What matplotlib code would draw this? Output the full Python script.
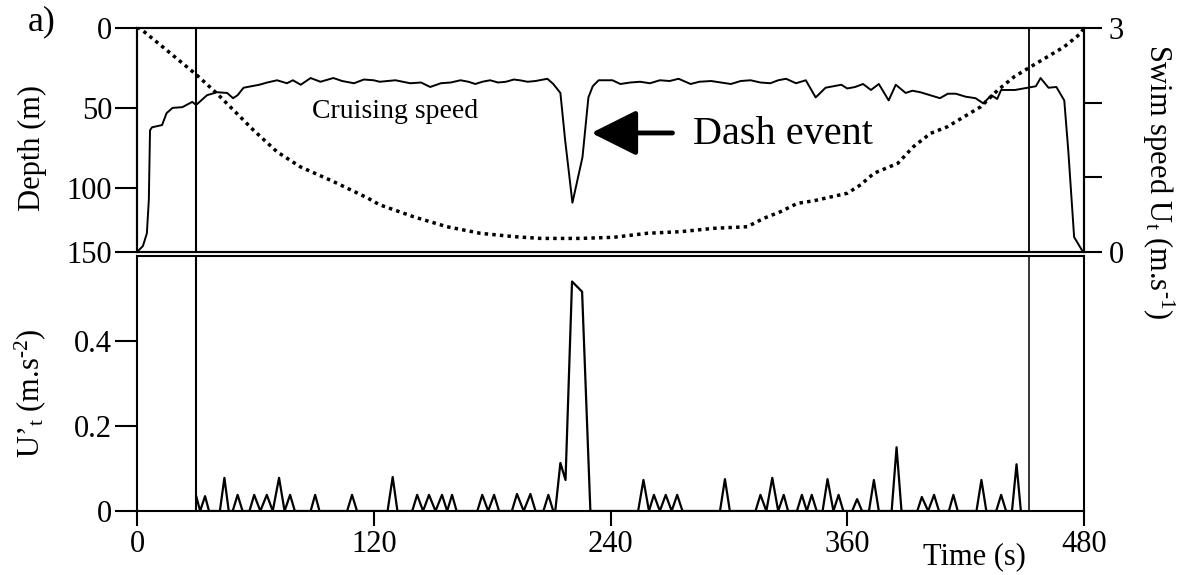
import matplotlib
matplotlib.use("Agg")
import matplotlib.pyplot as plt
from matplotlib.ticker import FixedLocator, FixedFormatter

plt.rcParams['font.family'] = 'Liberation Serif'
plt.rcParams['mathtext.fontset'] = 'custom'
plt.rcParams['mathtext.rm'] = 'Liberation Serif'
plt.rcParams['mathtext.it'] = 'Liberation Serif:italic'

# --- dive record ---
# swim speed U_t (m/s)
speed_t = [0, 3, 5, 6, 6.6, 7.6, 12.7, 15, 18, 23, 28, 30, 35.5, 40.6, 45.7, 48.7,
           51, 54, 58, 62, 66, 71, 76, 79, 83, 88, 93, 99.5, 104, 110, 115, 120,
           123, 131, 138.5, 144, 148.6, 154, 159, 164, 168, 171.5, 175, 179, 183,
           187, 191, 194, 198, 202, 208, 211, 214.6, 217, 220.7, 225.8, 228.8,
           231, 234, 241, 245, 250, 255, 260, 265, 270, 274.5, 280.6, 285, 291,
           296, 301, 306, 311, 316, 321, 325, 329, 334, 339, 344, 349, 353, 357,
           360, 364, 368, 372, 376, 381, 384.6, 389.6, 393, 397, 402, 407, 411,
           415, 420, 425, 429, 433, 436, 438, 445, 451.5, 455.6, 458, 462, 466,
           470, 472, 475, 479.5]
speed_v = [0, 0.08, 0.25, 0.7, 1.63, 1.67, 1.70, 1.86, 1.93, 1.94, 2.01, 1.97, 2.10, 2.14, 2.13, 2.06,
           2.10, 2.20, 2.22, 2.24, 2.27, 2.30, 2.26, 2.30, 2.24, 2.33, 2.28, 2.33, 2.29, 2.26, 2.31, 2.30,
           2.28, 2.30, 2.26, 2.27, 2.21, 2.26, 2.27, 2.30, 2.28, 2.25, 2.28, 2.30, 2.27,
           2.28, 2.31, 2.30, 2.28, 2.29, 2.32, 2.25, 2.13, 1.50, 0.66, 1.27, 2.07,
           2.22, 2.30, 2.30, 2.25, 2.27, 2.28, 2.26, 2.30, 2.29, 2.32, 2.25, 2.28, 2.29,
           2.27, 2.25, 2.29, 2.30, 2.27, 2.26, 2.30, 2.32, 2.26, 2.30, 2.07, 2.20, 2.22, 2.24,
           2.19, 2.21, 2.25, 2.17, 2.25, 2.03, 2.24, 2.13, 2.16, 2.14, 2.10, 2.06, 2.12,
           2.12, 2.08, 2.06, 1.99, 2.10, 2.05, 2.17, 2.17, 2.20, 2.22, 2.33, 2.20, 2.21,
           2.03, 1.37, 0.20, 0]

# depth (m)
depth_t = [0, 1.5, 15, 30.3, 40.4, 48.9, 59, 70.9, 82.7, 99.6, 116.5, 123, 133.4,
           140.2, 157.1, 174, 191, 204.5, 224.8, 241.7, 258.6, 275.5, 292.4, 309.3,
           317.8, 326.2, 334.7, 343, 360, 366.8, 373.5, 385.6, 393.7, 402.3, 410.8,
           419.3, 427.7, 436.3, 444.7, 453, 461.6, 470, 478.4, 480]
depth_v = [0, 0.2, 13.8, 29.4, 40.8, 51.3, 63.8, 77.3, 86.7, 96, 106, 110.5, 115,
           118, 124.2, 128.3, 130.4, 131.5, 131.5, 130.8, 128.3, 127.3, 125.2, 124.2,
           118.9, 114.8, 109.6, 108, 103.3, 98, 90.8, 84.6, 74, 65.8, 61.7,
           55.4, 49.2, 38.8, 30.4, 24.2, 17.9, 11.7, 3.3, 0]

# tangential acceleration U'_t (m/s^2), (time, value)
accel = [(30, 0.035), (32, 0), (34.5, 0.035), (36.5, 0), (42, 0), (44.3, 0.078),
         (46.5, 0), (48.5, 0), (51, 0.038), (53.5, 0), (57, 0), (59.4, 0.038),
         (62.5, 0), (65.8, 0.038), (68.8, 0), (72, 0.078), (74.8, 0), (77.6, 0.038),
         (80, 0), (88, 0), (90.3, 0.038), (92.5, 0), (106.5, 0), (109, 0.038),
         (111.5, 0), (127, 0), (129.6, 0.08), (132, 0), (139.5, 0), (142, 0.038),
         (145, 0), (148, 0.038), (151.3, 0), (154.6, 0.038), (157.2, 0), (159.7, 0.038),
         (162, 0), (172.5, 0), (175, 0.038), (178, 0), (181, 0.038), (183.5, 0),
         (190, 0), (192.6, 0.04), (196, 0), (199.4, 0.04), (202, 0), (206, 0),
         (208.5, 0.038), (211, 0), (212, 0), (214.6, 0.113), (217.2, 0.073),
         (220.5, 0.54), (225.6, 0.516), (229.8, 0), (254, 0), (256.7, 0.073),
         (259.5, 0), (262, 0.038), (265, 0), (268, 0.038), (271, 0), (273.8, 0.038),
         (276.5, 0), (295.5, 0), (298, 0.075), (300.5, 0), (313.5, 0), (316, 0.038),
         (319, 0), (322, 0.078), (325, 0), (327.8, 0.038), (330, 0), (334.5, 0),
         (337, 0.038), (339.5, 0), (342, 0.038), (344.5, 0), (347.5, 0), (350, 0.075),
         (353, 0), (355.6, 0.038), (358, 0), (362.5, 0), (365, 0.028), (367.5, 0),
         (371, 0), (373.5, 0.073), (376, 0), (382.5, 0), (385, 0.15), (387.5, 0),
         (395.5, 0), (397.8, 0.033), (401, 0), (404, 0.038), (406.5, 0), (411.5, 0),
         (413.8, 0.038), (416, 0), (425.5, 0), (428, 0.073), (430.5, 0), (435.5, 0),
         (438, 0.038), (440.5, 0), (443.5, 0), (445.8, 0.11), (448, 0)]

# start/end of the bottom phase
phase_marks = [30, 452]

time_ticks = [0, 120, 240, 360, 480]
depth_ticks = [0, 50, 100, 140]
depth_labels = ['0', '50', '100', '150']
speed_ticks = [0, 1, 2, 3]
speed_labels = ['0', '', '', '3']
accel_ticks = [0, 0.2, 0.4]
accel_labels = ['0', '0.2', '0.4']

W, H = 1186, 575


def fx(x):
    return x / W


def fy(y):
    return 1 - y / H


fig = plt.figure(figsize=(W / 100, H / 100), dpi=100)
ax_top = fig.add_axes([fx(137), fy(252), fx(1084) - fx(137), fy(28) - fy(252)])
ax_spd = ax_top.twinx()
ax_bot = fig.add_axes([fx(137), fy(511), fx(1084) - fx(137), fy(256) - fy(511)])

lw = 1.5
tick_fs = 22

# --- top panel: depth (left) and swim speed (right) ---
ax_top.plot(depth_t, depth_v, color='black', lw=2.5, linestyle=(0, (1, 1.2)))
ax_top.set_xlim(0, 480)
ax_top.set_ylim(140, 0)
ax_top.yaxis.set_major_locator(FixedLocator(depth_ticks))
ax_top.yaxis.set_major_formatter(FixedFormatter(depth_labels))
ax_top.tick_params(axis='y', direction='out', length=16, width=lw, pad=2, labelsize=tick_fs)
ax_top.tick_params(axis='x', bottom=False, labelbottom=False)

ax_spd.plot(speed_t, speed_v, color='black', lw=1.4)
ax_spd.set_ylim(0, 3)
ax_spd.yaxis.set_major_locator(FixedLocator(speed_ticks))
ax_spd.yaxis.set_major_formatter(FixedFormatter(speed_labels))
ax_spd.tick_params(axis='y', direction='out', length=13, width=lw, pad=5, labelsize=tick_fs)

for a in (ax_top, ax_spd, ax_bot):
    for s in a.spines.values():
        s.set_linewidth(lw)

for t in phase_marks:
    ax_top.axvline(t, color='black', lw=lw if t < 240 else 1.3)
    ax_bot.axvline(t, color='black', lw=lw if t < 240 else 1.1)

fig.text(fx(312), fy(118), 'Cruising speed', fontsize=20, ha='left', va='baseline')
fig.text(fx(693), fy(144), 'Dash event', fontsize=29, ha='left', va='baseline')
ax_top.annotate('', xy=(230.3, 65.6), xytext=(271.4, 65.6),
                arrowprops=dict(arrowstyle='-|>,head_length=1.4,head_width=0.7',
                                mutation_scale=20, lw=3.5, color='black',
                                shrinkA=0, shrinkB=0))

# --- bottom panel: acceleration ---
acc_t = [p[0] for p in accel]
acc_v = [p[1] for p in accel]
ax_bot.plot(acc_t, acc_v, color='black', lw=1.6)
ax_bot.set_xlim(0, 480)
ax_bot.set_ylim(0, 0.6)
ax_bot.xaxis.set_major_locator(FixedLocator(time_ticks))
ax_bot.yaxis.set_major_locator(FixedLocator(accel_ticks))
ax_bot.yaxis.set_major_formatter(FixedFormatter(accel_labels))
ax_bot.tick_params(axis='y', direction='out', length=16, width=lw, pad=2, labelsize=tick_fs)
ax_bot.tick_params(axis='x', direction='out', length=11, width=lw, pad=3, labelsize=tick_fs)

# axis titles
fig.text(fx(42), fy(22), 'a)', fontsize=26, ha='center', va='center')
fig.text(fx(32), fy(148), 'Depth (m)', fontsize=22, rotation=90, ha='center', va='center')
fig.text(fx(30), fy(393), 'U\u2019$_\\mathrm{t}$ (m.s$^{\\text{-2}}$)', fontsize=22,
         rotation=90, ha='center', va='center')
fig.text(fx(1158), fy(182), 'Swim speed U$_\\mathrm{t}$ (m.s$^{\\text{-1}}$)', fontsize=22,
         rotation=-90, ha='center', va='center')
fig.text(fx(923), fy(564), 'Time (s)', fontsize=22, ha='left', va='baseline')

fig.savefig('out.png', dpi=100)
